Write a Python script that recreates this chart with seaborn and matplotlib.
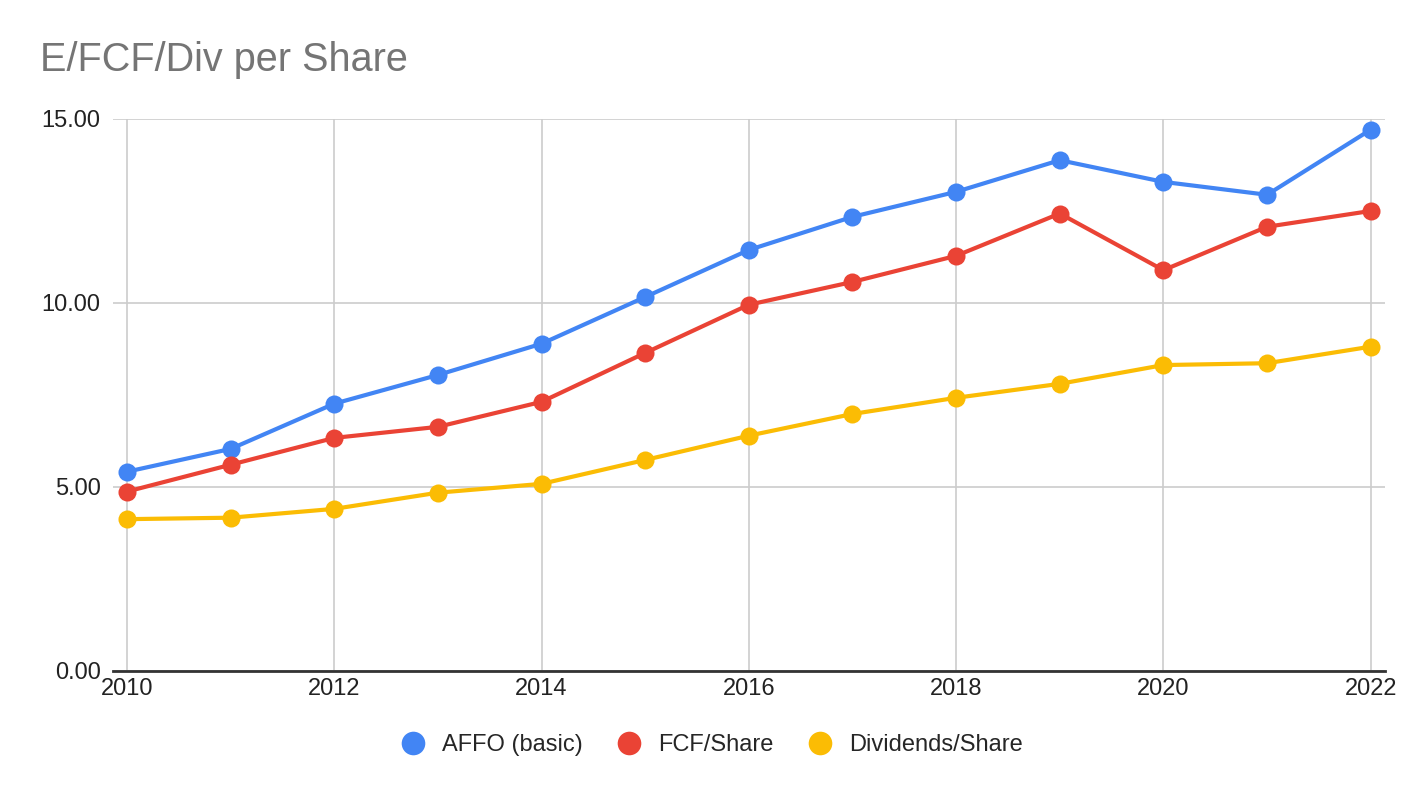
import pandas as pd
import matplotlib.pyplot as plt
import seaborn as sns

# Values
years = list(range(2010, 2023))
affo = [5.41, 6.03, 7.26, 8.04, 8.89, 10.16, 11.44, 12.34, 13.02, 13.88, 13.29, 12.94, 14.71]
fcf = [4.87, 5.60, 6.33, 6.63, 7.31, 8.64, 9.95, 10.57, 11.28, 12.43, 10.89, 12.07, 12.50]
divs = [4.12, 4.16, 4.40, 4.84, 5.08, 5.73, 6.39, 6.98, 7.42, 7.80, 8.31, 8.36, 8.81]

series_names = ['AFFO (basic)', 'FCF/Share', 'Dividends/Share']
colors = ['#4285F4', '#EA4335', '#FBBC04']

df = pd.DataFrame({'year': years, series_names[0]: affo, series_names[1]: fcf, series_names[2]: divs})
long_df = df.melt(id_vars='year', var_name='series', value_name='value')

sns.set_style('white')
plt.rcParams['font.family'] = ['Liberation Sans', 'DejaVu Sans']

fig = plt.figure(figsize=(14.24, 7.98), dpi=100)
ax = fig.add_axes([113 / 1424, 1 - 670.7 / 798, (1385 - 113) / 1424, (670.7 - 119) / 798])

sns.lineplot(data=long_df, x='year', y='value', hue='series', hue_order=series_names,
             palette=colors, marker='o', markersize=13, markeredgewidth=0,
             linewidth=3, ax=ax, legend=True, zorder=3)

ax.set_xlim(2009.865, 2022.138)
ax.set_ylim(0, 15)
ax.set_xticks(range(2010, 2023, 2))
ax.set_yticks([0, 5, 10, 15])
ax.set_yticklabels([f'{v:.2f}' for v in [0, 5, 10, 15]])
ax.grid(True, color='#cccccc', linewidth=1.2, zorder=0)
ax.set_axisbelow(True)
for side in ['top', 'right', 'left']:
    ax.spines[side].set_visible(False)
ax.spines['bottom'].set_color('#333333')
ax.spines['bottom'].set_linewidth(2)
ax.tick_params(axis='both', length=0, labelsize=17, colors='#222222')
ax.tick_params(axis='y', pad=9)
ax.tick_params(axis='x', pad=5)
ax.set_xlabel('')
ax.set_ylabel('')

# Legend centred on the figure, below the plot
handles, labels = ax.get_legend_handles_labels()
ax.get_legend().remove()
for h in handles:
    h.set_linestyle('none')
    h.set_markersize(17)
fig.legend(handles, labels, loc='center', bbox_to_anchor=(0.5, 1 - 745 / 798), ncol=3,
           frameon=False, fontsize=17, handletextpad=0.75, columnspacing=1.45,
           handlelength=1.0)

fig.text(40 / 1424, 1 - 60 / 798, 'E/FCF/Div per Share', fontsize=28.5, color='#757575',
         va='center', ha='left')

fig.savefig('out.png', dpi=100)
